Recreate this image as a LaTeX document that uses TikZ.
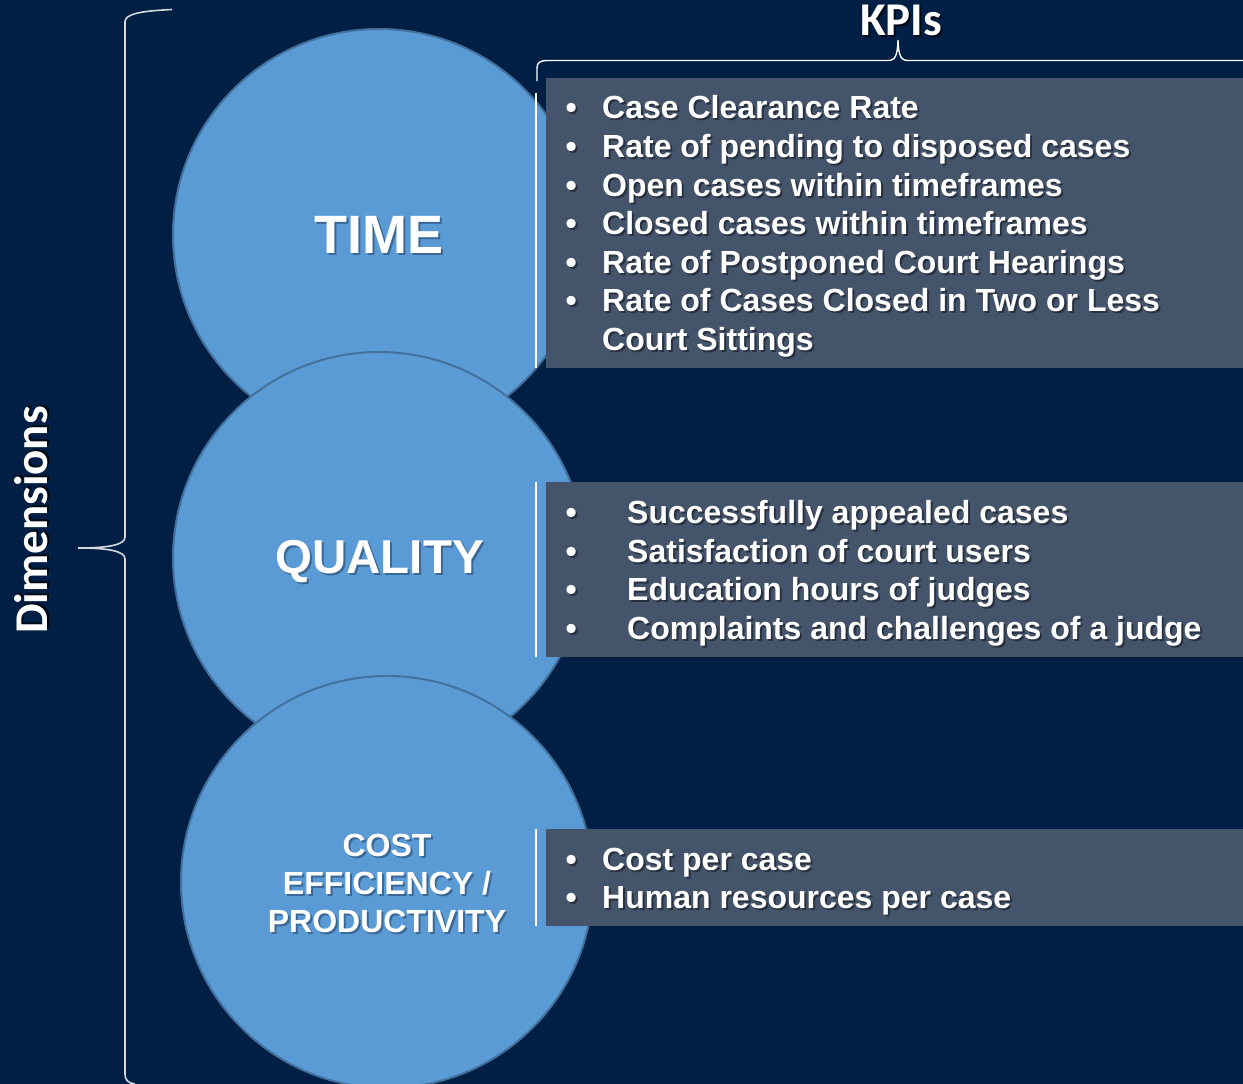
\documentclass[tikz,border=0pt]{standalone}
\usepackage{fontspec}
\setmainfont{Liberation Sans}
\newfontfamily\califont{Carlito}
\definecolor{bgnavy}{HTML}{011F44}
\definecolor{circfill}{HTML}{5B9BD5}
\definecolor{circline}{HTML}{41719C}
\definecolor{boxfill}{HTML}{44546A}
\definecolor{shblue}{HTML}{3A6897}
\definecolor{shgray}{HTML}{283140}
\definecolor{shnavy}{HTML}{000916}
\definecolor{bracec}{HTML}{D4D8DE}
\newcommand\txtshadow[2][shgray]{\makebox[0pt][l]{\kern2pt\raisebox{-2pt}{\textcolor{#1}{#2}}}#2}
\begin{document}
\begin{tikzpicture}[x=1pt,y=-1pt,
  dimcircle/.style={circle, draw=circline, line width=2pt, fill=circfill, minimum size=412pt, inner sep=0pt},
  kpibox/.style={fill=boxfill, draw=none, inner sep=0pt, anchor=north west, minimum width=697pt},
  sepline/.style={white, line width=1.5pt},
  dimbrace/.style={bracec, line width=1.6pt},
  kpibrace/.style={white, line width=1.4pt},
  labeltext/.style={text=white, inner sep=0pt, anchor=base},
  kpilist/.style={text=white, font=\fontsize{32}{38.6}\selectfont\bfseries, inner sep=0pt, anchor=base west},
]
\useasboundingbox (0,0) rectangle (1243,1084);
\fill[bgnavy] (0,0) rectangle (1243,1084);

% circles
\node[dimcircle] (ctime) at (379,235) {};
\node[dimcircle] (cquality) at (379,558) {};
\node[dimcircle] (ccost) at (387,882) {};

% circle labels
\node[labeltext, font=\fontsize{54}{60}\selectfont\bfseries] (ltime) at (379,253.5) {\txtshadow[shblue]{TIME}};
\node[labeltext, font=\fontsize{47.5}{52}\selectfont\bfseries] (lquality) at (379.5,573.5) {\txtshadow[shblue]{QUALITY}};
\node[labeltext, font=\fontsize{32}{38.3}\selectfont\bfseries] (lcost) at (387,856)
  {\begin{tabular}[t]{@{}c@{}}\txtshadow[shblue]{COST}\\ \txtshadow[shblue]{EFFICIENCY /}\\ \txtshadow[shblue]{PRODUCTIVITY}\end{tabular}};

% KPI boxes
\node[kpibox, minimum height=290pt] (box1) at (546,78) {};
\node[kpibox, minimum height=175pt] (box2) at (546,482) {};
\node[kpibox, minimum height=97pt] (box3) at (546,829) {};

% separator lines
\draw[sepline] (536,93) -- (536,368);
\draw[sepline] (536,482) -- (536,657);
\draw[sepline] (536,829) -- (536,926);

% KPI lists
\node[kpilist] (list1) at (565.4,118.8) {\begin{tabular}[t]{@{}l@{\hspace{25.4pt}}l@{}}
\txtshadow{\textbullet} & \txtshadow{Case Clearance Rate}\\
\txtshadow{\textbullet} & \txtshadow{Rate of pending to disposed cases}\\
\txtshadow{\textbullet} & \txtshadow{Open cases within timeframes}\\
\txtshadow{\textbullet} & \txtshadow{Closed cases within timeframes}\\
\txtshadow{\textbullet} & \txtshadow{Rate of Postponed Court Hearings}\\
\txtshadow{\textbullet} & \txtshadow{Rate of Cases Closed in Two or Less}\\
 & \txtshadow{Court Sittings}
\end{tabular}};
\node[kpilist] (list2) at (565.4,523.5) {\begin{tabular}[t]{@{}l@{\hspace{50.4pt}}l@{}}
\txtshadow{\textbullet} & \txtshadow{Successfully appealed cases}\\
\txtshadow{\textbullet} & \txtshadow{Satisfaction of court users}\\
\txtshadow{\textbullet} & \txtshadow{Education hours of judges}\\
\txtshadow{\textbullet} & \txtshadow{Complaints and challenges of a judge}
\end{tabular}};
\node[kpilist] (list3) at (565.4,870) {\begin{tabular}[t]{@{}l@{\hspace{25.4pt}}l@{}}
\txtshadow{\textbullet} & \txtshadow{Cost per case}\\
\txtshadow{\textbullet} & \txtshadow{Human resources per case}
\end{tabular}};

% headings
\node[labeltext, font=\fontsize{47}{52}\califont\bfseries] (kpis) at (901,35) {\txtshadow[shnavy]{KPIs}};
\node[labeltext, font=\fontsize{47}{52}\califont\bfseries, rotate=90] (dims) at (47,520) {\txtshadow[shnavy]{Dimensions}};

% braces
\draw[dimbrace] (172,9.5) .. controls (140,11) and (125,14) .. (125,22)
  -- (125,537) .. controls (125,545) and (108,548) .. (78,548)
  .. controls (108,548) and (125,551) .. (125,559)
  -- (125,1074) .. controls (125,1080) and (128,1083) .. (135,1084);
\draw[kpibrace] (537,81) -- (537,68) .. controls (537,62.5) and (540,60.5) .. (548,60.5)
  -- (888,60.5) .. controls (895,60.5) and (897.5,56) .. (898,40)
  .. controls (898.5,56) and (901,60.5) .. (908,60.5) -- (1243,60.5);
\end{tikzpicture}
\end{document}
